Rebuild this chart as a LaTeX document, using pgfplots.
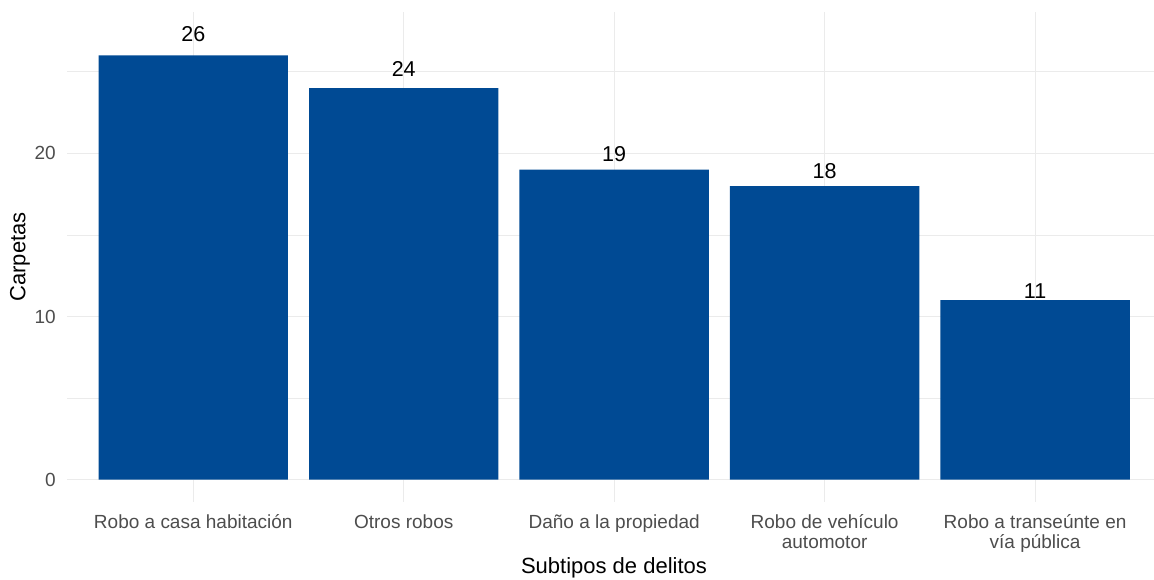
\documentclass[border=0pt]{standalone}
\usepackage{pgfplots}
\pgfplotsset{compat=1.18}
\usepackage{fontspec}
\setmainfont{Liberation Sans}
\definecolor{barblue}{RGB}{0,74,148}
\definecolor{gridgray}{RGB}{235,235,235}
\definecolor{ticktext}{RGB}{77,77,77}
\newcommand{\twol}[2]{\begin{tabular}[t]{@{}c@{}}#1\\#2\end{tabular}}
\begin{document}
\begin{tikzpicture}
\path[use as bounding box] (-67bp,-78bp) rectangle (1087bp,502bp);
\begin{axis}[
  at={(0,0)}, anchor=south west,
  scale only axis, width=1087bp, height=490bp,
  xmin=0.4, xmax=5.565, ymin=-1.365, ymax=28.665,
  axis line style={draw=none},
  major tick length=0pt, minor tick length=0pt,
  xtick={1,2,3,4,5},
  xticklabels={Robo a casa habitación, Otros robos, Daño a la propiedad, {\twol{Robo de vehículo}{automotor}}, {\twol{Robo a transeúnte en}{vía pública}}},
  ytick={0,10,20}, minor ytick={5,15,25},
  xmajorgrids, ymajorgrids, yminorgrids,
  major grid style={gridgray, line width=1.1bp},
  minor grid style={gridgray, line width=0.6bp},
  tick label style={font=\fontsize{19bp}{20bp}\selectfont, text=ticktext},
  xticklabel style={anchor=base, yshift=-26bp},
  yticklabel style={anchor=east, inner sep=0pt, xshift=-11bp},
  /pgf/number format/assume math mode=true,
  xlabel={Subtipos de delitos}, ylabel={Carpetas},
  label style={font=\fontsize{22bp}{24bp}\selectfont, text=black},
  xlabel style={at={(axis description cs:0.5032,0)}, anchor=base, yshift=-71bp},
  ylabel style={at={(axis description cs:-0.0432,0.5)}, anchor=center},
  clip=false,
]
\addplot[ybar, bar width=0.9, bar shift=0pt, fill=barblue, draw=none]
  coordinates {(1,26) (2,24) (3,19) (4,18) (5,11)};
\addplot[draw=none, mark=none, nodes near coords, point meta=explicit symbolic,
  every node near coord/.append style={anchor=center, inner sep=0pt, font=\fontsize{21.5bp}{24bp}\selectfont, text=black}]
  coordinates {(1,27.3)[26] (2,25.2)[24] (3,19.95)[19] (4,18.9)[18] (5,11.55)[11]};
\end{axis}
\end{tikzpicture}
\end{document}
